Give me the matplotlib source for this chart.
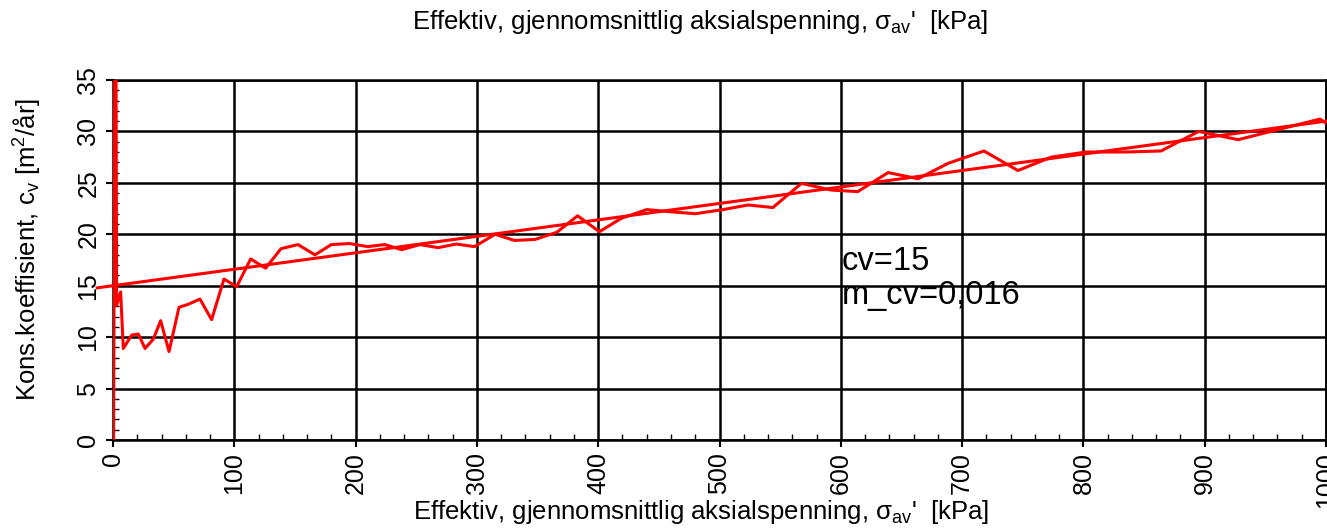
import numpy as np
import matplotlib.pyplot as plt
from matplotlib.ticker import MultipleLocator

plt.rcParams['font.family'] = ['Liberation Sans', 'DejaVu Sans']
plt.rcParams['mathtext.fontset'] = 'custom'
plt.rcParams['mathtext.rm'] = 'Liberation Sans'
plt.rcParams['mathtext.it'] = 'Liberation Sans'

# Measured consolidation coefficient vs. effective mean axial stress
stress = [0.5, 2, 3, 6.3, 8.5, 15.4, 20.9, 26.4, 33.2, 39.3, 46.2, 54.4, 62.1,
          71.7, 81.3, 91.5, 101.9, 113.5, 125.8, 138.5, 152.5, 166.5, 180, 195,
          210, 224, 238, 253, 268, 283, 298, 315, 331, 348, 366, 383, 401, 419,
          440, 459, 480, 503, 523.6, 544, 567.6, 592, 614, 639, 663.7, 688.5,
          718, 746, 773.5, 802, 835, 864, 895, 927.6, 995, 1000]
cv = [0, 60, 13.1, 14.4, 8.9, 10.2, 10.3, 8.9, 9.8, 11.6, 8.6, 12.9, 13.2,
      13.7, 11.7, 15.65, 14.9, 17.6, 16.7, 18.6, 19.0, 18.0, 19.0, 19.1,
      18.8, 19.0, 18.5, 19.0, 18.7, 19.05, 18.8, 20.0, 19.4, 19.5, 20.2, 21.8,
      20.25, 21.55, 22.4, 22.2, 22.0, 22.4, 22.85, 22.6, 24.95, 24.3, 24.15,
      26.0, 25.4, 26.9, 28.1, 26.2, 27.5, 28.0, 28.0, 28.1, 30.0, 29.2, 31.2,
      30.8]

# Linear model cv = cv0 + m_cv * sigma
cv0 = 15
m_cv = 0.016
fit_x = np.array([-13, 1000])
fit_y = cv0 + m_cv * fit_x

xlabel = r"Effektiv, gjennomsnittlig aksialspenning, $\mathrm{\sigma_{av}}$'  [kPa]"
ylabel = r"Kons.koeffisient, c$_\mathrm{v}$ [m$^\mathrm{2}$/år]"

fig = plt.figure(figsize=(13.27, 5.30), dpi=100)
ax = fig.add_axes([113 / 1327, 90 / 530, 1213 / 1327, 360 / 530])

ax.plot(stress, cv, color='red', lw=2.2, zorder=3)
ax.plot(fit_x, fit_y, color='red', lw=2.2, zorder=3, clip_on=False)

ax.set_xlim(0, 1000)
ax.set_ylim(0, 35)
ax.xaxis.set_major_locator(MultipleLocator(100))
ax.xaxis.set_minor_locator(MultipleLocator(20))
ax.yaxis.set_major_locator(MultipleLocator(5))
ax.yaxis.set_minor_locator(MultipleLocator(1))
ax.grid(True, which='major', color='black', lw=1.8)
ax.set_axisbelow(True)

for s in ax.spines.values():
    s.set_linewidth(1.8)
ax.tick_params(which='major', direction='out', length=5, width=1.5, labelsize=18)
ax.tick_params(which='minor', direction='in', length=4, width=1)
ax.tick_params(axis='x', labelrotation=90, pad=4)
ax.tick_params(axis='y', labelrotation=90, pad=4)
for lbl in ax.get_yticklabels():
    lbl.set_va('center')

ax.set_xlabel(xlabel, fontsize=18.5, va='center')
ax.xaxis.set_label_coords(0.485, -0.2)
ax.set_ylabel(ylabel, fontsize=18.5, va='center')
ax.yaxis.set_label_coords(-0.07, 0.53)
fig.text(0.528, 0.958, xlabel, fontsize=18.5, ha='center', va='center')

ax.text(601, 15.7, "cv=15\nm_cv=0,016", fontsize=23.5, linespacing=1.1,
        ha='left', va='center')

fig.savefig('out.png', dpi=100)
